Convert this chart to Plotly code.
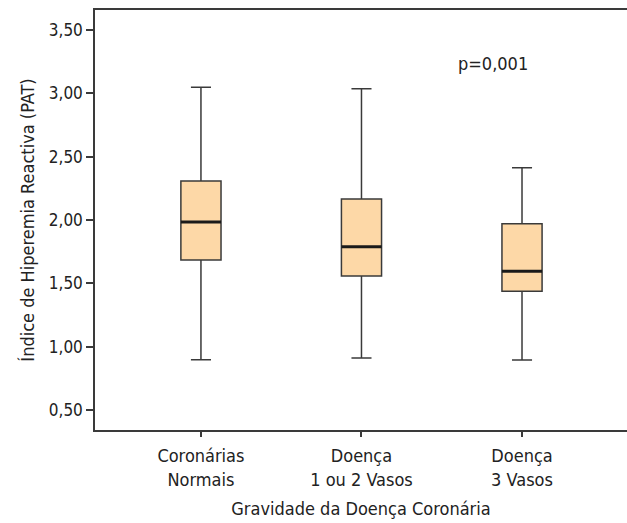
import plotly.graph_objects as go

# Grupos de gravidade da doença coronária
categories = ["Coronárias<br>Normais", "Doença<br>1 ou 2 Vasos", "Doença<br>3 Vasos"]
lower_whisker = [0.897, 0.911, 0.895]
q1 = [1.684, 1.558, 1.437]
median = [1.985, 1.789, 1.595]
q3 = [2.308, 2.166, 1.971]
upper_whisker = [3.048, 3.037, 2.413]
y_ticks = [0.5, 1.0, 1.5, 2.0, 2.5, 3.0, 3.5]
y_tick_labels = ["0,50", "1,00", "1,50", "2,00", "2,50", "3,00", "3,50"]
p_value_text = "p=0,001"

FONT = "Liberation Sans Narrow, DejaVu Sans Condensed, Arial Narrow, sans-serif"
LINE = "#3a3a3a"
FILL = "#fdd8a7"
BOX_W = 0.25

xs = list(range(len(categories)))

fig = go.Figure()
fig.add_trace(go.Box(
    x=xs,
    q1=q1, median=median, q3=q3,
    lowerfence=lower_whisker, upperfence=upper_whisker,
    width=BOX_W,
    whiskerwidth=0.5,
    fillcolor=FILL,
    line=dict(color=LINE, width=1.5),
    boxpoints=False,
    hoverinfo="skip",
    showlegend=False,
))

# Linha da mediana mais espessa
mx, my = [], []
for i, m in zip(xs, median):
    mx += [i - BOX_W / 2, i + BOX_W / 2, None]
    my += [m, m, None]
fig.add_trace(go.Scatter(
    x=mx, y=my, mode="lines",
    line=dict(color="#1a1a1a", width=3),
    hoverinfo="skip", showlegend=False,
))

fig.add_annotation(
    x=1.82, y=3.235, xref="x", yref="y",
    text=p_value_text, showarrow=False,
    font=dict(family=FONT, size=18, color="#222"),
)

fig.update_layout(
    width=627, height=523,
    margin=dict(l=95, r=0, t=10, b=93),
    paper_bgcolor="white", plot_bgcolor="white",
    font=dict(family=FONT, size=18, color="#222"),
    xaxis=dict(
        range=[-0.66, 2.654],
        tickvals=xs, ticktext=categories,
        tickfont=dict(size=18),
        ticklabelstandoff=4,
        showline=True, linecolor=LINE, linewidth=1.5, mirror=True,
        ticks="outside", ticklen=5, tickcolor=LINE, tickwidth=1.5,
        showgrid=False, zeroline=False,
        title=dict(text="Gravidade da Doença Coronária", standoff=14,
                   font=dict(family=FONT, size=18)),
    ),
    yaxis=dict(
        range=[0.342, 3.658],
        tickvals=y_ticks, ticktext=y_tick_labels,
        tickfont=dict(size=17),
        showline=True, linecolor=LINE, linewidth=1.5,
        ticks="outside", ticklen=7, tickcolor=LINE, tickwidth=1.5,
        showgrid=False, zeroline=False,
        title=dict(text="Índice de Hiperemia Reactiva (PAT)", standoff=10,
                   font=dict(family=FONT, size=18)),
    ),
)

fig.write_html("out.html")
